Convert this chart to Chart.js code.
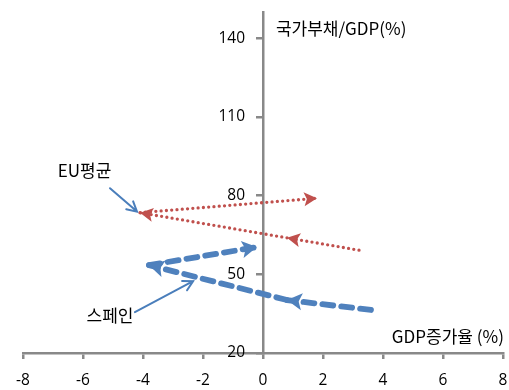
<!DOCTYPE html>
<html><head><meta charset="utf-8">
<script src="https://cdn.jsdelivr.net/npm/chart.js@4/dist/chart.umd.min.js"></script>
<style>html,body{margin:0;padding:0;background:#fff;overflow:hidden}#wrap{width:509px;height:390px}</style>
</head><body><div id="wrap"><canvas id="c"></canvas></div>
<script>
// GDP growth (%) vs government debt / GDP (%), 2007 -> 2010
const years = ['2007', '2008', '2009', '2010'];
const euGrowth = [3.2, 0.8, -4.1, 1.8];
const euDebt = [59.2, 63.9, 73.5, 79.0];
const spainGrowth = [3.6, 0.8, -3.8, -0.2];
const spainDebt = [36.4, 40.2, 53.5, 60.4];
const xTicks = [-8, -6, -4, -2, 0, 2, 4, 6, 8];
const yTicks = [20, 50, 80, 110, 140];
const xTitle = 'GDP증가율 (%)';
const yTitle = '국가부채/GDP(%)';
const euLabel = 'EU평균';
const spainLabel = '스페인';

const AXIS = '#898989';
const RED = '#c0504d';
const BLUE = '#4f81bd';
const NOTE_BLUE = '#4a7ebb';
const KR_FONT = '"Noto Sans CJK KR", "Noto Sans", sans-serif';
const NUM_FONT = '"Open Sans", "Liberation Sans", sans-serif';
const Y_LABEL_GAP = 12; // space between the y tick marks and their labels

// one dataset per year-to-year step, so every step ends in its own arrowhead
function steps(gx, gy, style) {
  const out = [];
  for (let i = 0; i < gx.length - 1; i++) {
    out.push(Object.assign({
      data: [{x: gx[i], y: gy[i]}, {x: gx[i + 1], y: gy[i + 1]}],
      showLine: true,
      pointRadius: 0,
      pointHoverRadius: 0,
      fill: false,
      tension: 0
    }, style));
  }
  return out;
}

const euStyle = {borderColor: RED, borderWidth: 3.3, borderDash: [0, 5.3], borderCapStyle: 'round', arrow: {len: 13, half: 7, color: RED}};
const spainStyle = {borderColor: BLUE, borderWidth: 5.8, borderDash: [11, 8], borderCapStyle: 'round', arrow: {len: 15, half: 8.5, color: BLUE}};

// callout text + pointer positions (data space)
const notes = [
  {text: euLabel, at: [-5.95, 89.5], from: [-5.1, 82.8], to: [-4.2, 73.9]},
  {text: spainLabel, at: [-5.1, 34.3], from: [-4.27, 35.6], to: [-2.33, 47.4]}
];

const arrowHeads = {
  id: 'arrowHeads',
  afterDatasetsDraw(chart) {
    const ctx = chart.ctx;
    chart.data.datasets.forEach((ds, i) => {
      if (!ds.arrow) return;
      const pts = chart.getDatasetMeta(i).data;
      const a = pts[pts.length - 2], b = pts[pts.length - 1];
      const ang = Math.atan2(b.y - a.y, b.x - a.x);
      const {len, half, color} = ds.arrow;
      ctx.save();
      ctx.translate(b.x, b.y);
      ctx.rotate(ang);
      ctx.fillStyle = color;
      ctx.beginPath();
      ctx.moveTo(0, 0);
      ctx.lineTo(-len, -half);
      ctx.lineTo(-len * 0.78, 0);
      ctx.lineTo(-len, half);
      ctx.closePath();
      ctx.fill();
      ctx.restore();
    });
  }
};

// the centred y axis puts its labels flush against the axis line; move them left past the tick marks
const yLabelShift = {
  id: 'yLabelShift',
  beforeDraw(chart) {
    const sy = chart.scales.y;
    const items = sy.getLabelItems ? sy.getLabelItems(chart.chartArea) : null;
    if (!items || items._shifted) return;
    const shift = sy.options.grid.tickLength + Y_LABEL_GAP;
    items.forEach(it => {
      if (it.options && it.options.translation) it.options.translation[0] -= shift;
    });
    items._shifted = true;
  }
};

const callouts = {
  id: 'callouts',
  afterDraw(chart) {
    const ctx = chart.ctx;
    const sx = chart.scales.x, sy = chart.scales.y;
    const px = v => sx.getPixelForValue(v), py = v => sy.getPixelForValue(v);
    ctx.save();
    ctx.font = '17px ' + KR_FONT;
    ctx.fillStyle = '#000';
    ctx.textBaseline = 'middle';
    // axis titles
    ctx.textAlign = 'left';
    ctx.fillText(yTitle, px(0.43), py(143.8));
    ctx.textAlign = 'right';
    ctx.fillText(xTitle, px(8.03), py(26.2));
    // callouts
    notes.forEach(n => {
      ctx.textAlign = 'center';
      ctx.fillStyle = '#000';
      ctx.fillText(n.text, px(n.at[0]), py(n.at[1]));
      const x1 = px(n.from[0]), y1 = py(n.from[1]);
      const x2 = px(n.to[0]), y2 = py(n.to[1]);
      ctx.strokeStyle = NOTE_BLUE;
      ctx.lineWidth = 2;
      ctx.lineCap = 'round';
      ctx.beginPath();
      ctx.moveTo(x1, y1);
      ctx.lineTo(x2, y2);
      const ang = Math.atan2(y2 - y1, x2 - x1);
      const L = 11, W = 0.5;
      ctx.moveTo(x2 - L * Math.cos(ang - W), y2 - L * Math.sin(ang - W));
      ctx.lineTo(x2, y2);
      ctx.lineTo(x2 - L * Math.cos(ang + W), y2 - L * Math.sin(ang + W));
      ctx.stroke();
    });
    ctx.restore();
  }
};

new Chart(document.getElementById('c'), {
  type: 'scatter',
  data: {
    datasets: [
      ...steps(euGrowth, euDebt, euStyle),
      ...steps(spainGrowth, spainDebt, spainStyle)
    ]
  },
  options: {
    responsive: true,
    maintainAspectRatio: false,
    animation: false,
    layout: {padding: {left: 23, right: 6, top: 12, bottom: 0}},
    plugins: {legend: {display: false}, tooltip: {enabled: false}},
    scales: {
      x: {
        type: 'linear',
        position: 'bottom',
        min: -8, max: 8,
        afterBuildTicks: s => { s.ticks = xTicks.map(v => ({value: v})); },
        afterFit: s => { s.height = 37; },
        ticks: {color: '#000', font: {family: NUM_FONT, size: 15.5, lineHeight: '42px'}, padding: 1, maxRotation: 0},
        grid: {drawOnChartArea: false, drawTicks: true, tickLength: 6, color: AXIS, lineWidth: 2.5},
        border: {display: true, color: AXIS, width: 2.5}
      },
      y: {
        type: 'linear',
        position: {x: 0},
        min: 20, max: 150,
        afterBuildTicks: s => { s.ticks = yTicks.map(v => ({value: v})); },
        afterFit: s => { s.paddingTop = 0; s.paddingBottom = 0; },
        ticks: {color: '#000', font: {family: NUM_FONT, size: 15.5}, padding: 0},
        grid: {drawOnChartArea: false, drawTicks: true, tickLength: 6, color: AXIS, lineWidth: 2.5},
        border: {display: true, color: AXIS, width: 2.5}
      }
    }
  },
  plugins: [arrowHeads, yLabelShift, callouts]
});
</script>
</body></html>
